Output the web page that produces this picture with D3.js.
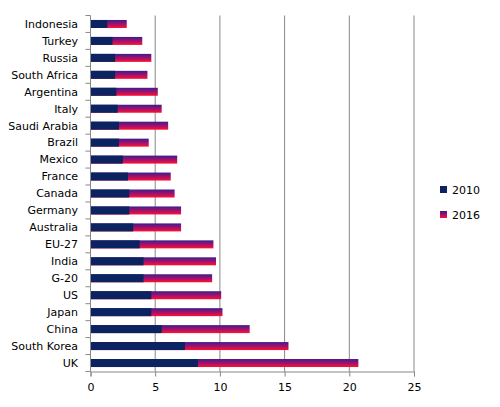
<!DOCTYPE html>
<html><head><meta charset="utf-8">
<script src="https://cdn.jsdelivr.net/npm/d3@7"></script>
<style>body{margin:0;background:#fff}text{font-family:"DejaVu Sans",sans-serif;font-size:11px;fill:#000}</style>
</head><body><svg id="c" width="500" height="407"></svg>
<script>
// data, top to bottom
var countries = ['Indonesia','Turkey','Russia','South Africa','Argentina','Italy','Saudi Arabia','Brazil','Mexico','France','Canada','Germany','Australia','EU-27','India','G-20','US','Japan','China','South Korea','UK'];
var values2010 = [1.3,1.7,1.9,1.9,2.0,2.1,2.2,2.2,2.5,2.9,3.0,3.0,3.3,3.8,4.1,4.1,4.7,4.7,5.5,7.3,8.3];
var values2016 = [2.8,4.0,4.7,4.4,5.2,5.5,6.0,4.5,6.7,6.2,6.5,7.0,7.0,9.5,9.7,9.4,10.1,10.2,12.3,15.3,20.7];
var xTicks = [0,5,10,15,20,25];

var svg = d3.select('#c');
var x = d3.scaleLinear().domain([0, 25]).range([90.5, 414]);
var y = d3.scaleBand().domain(countries).range([15.5, 371.5]);

var grad = svg.append('defs').append('linearGradient')
    .attr('id', 'g16').attr('x1', 0).attr('y1', 0).attr('x2', 0).attr('y2', 1);
grad.append('stop').attr('offset', '0%').attr('stop-color', '#3a1f8a');
grad.append('stop').attr('offset', '50%').attr('stop-color', '#a01070');
grad.append('stop').attr('offset', '100%').attr('stop-color', '#ff1030');

// gridlines
svg.append('g').selectAll('line').data(xTicks.slice(1)).join('line')
    .attr('x1', d => x(d)).attr('x2', d => x(d))
    .attr('y1', 15.5).attr('y2', 371.5)
    .attr('stroke', '#888').attr('stroke-width', 1);

var bh = 8;
svg.append('g').selectAll('rect').data(countries).join('rect')
    .attr('x', x(0)).attr('y', d => y(d) + y.bandwidth() / 2 - bh / 2)
    .attr('width', (d, i) => x(values2016[i]) - x(0)).attr('height', bh)
    .attr('fill', 'url(#g16)');
svg.append('g').selectAll('rect').data(countries).join('rect')
    .attr('x', x(0)).attr('y', d => y(d) + y.bandwidth() / 2 - bh / 2)
    .attr('width', (d, i) => x(values2010[i]) - x(0)).attr('height', bh)
    .attr('fill', '#0b2360');

// axes
var xa = svg.append('g').attr('transform', 'translate(0,371.5)')
    .call(d3.axisBottom(x).tickValues(xTicks).tickSize(5).tickPadding(7));
xa.select('.domain').attr('stroke', '#888');
xa.selectAll('.tick line').attr('stroke', '#888');
xa.selectAll('text').style('font-size', '11px');

var ya = svg.append('g');
ya.append('line').attr('x1', 90.5).attr('x2', 90.5).attr('y1', 15.5).attr('y2', 371.5).attr('stroke', '#888');
ya.selectAll('line.t').data(d3.range(countries.length + 1)).join('line').attr('class', 't')
    .attr('x1', 85.5).attr('x2', 90.5)
    .attr('y1', i => 15.5 + i * y.step()).attr('y2', i => 15.5 + i * y.step())
    .attr('stroke', '#888');
ya.selectAll('text').data(countries).join('text')
    .attr('x', 78).attr('y', d => y(d) + y.bandwidth() / 2)
    .attr('dy', '0.35em').attr('text-anchor', 'end').text(d => d);

// legend
var leg = svg.append('g');
[['2010', '#0b2360'], ['2016', 'url(#g16)']].forEach(function(l, i) {
    leg.append('rect').attr('x', 440).attr('y', 186 + i * 25).attr('width', 7).attr('height', 7).attr('fill', l[1]);
    leg.append('text').attr('x', 452).attr('y', 190 + i * 25).attr('dy', '0.35em').text(l[0]);
});
</script></body></html>
